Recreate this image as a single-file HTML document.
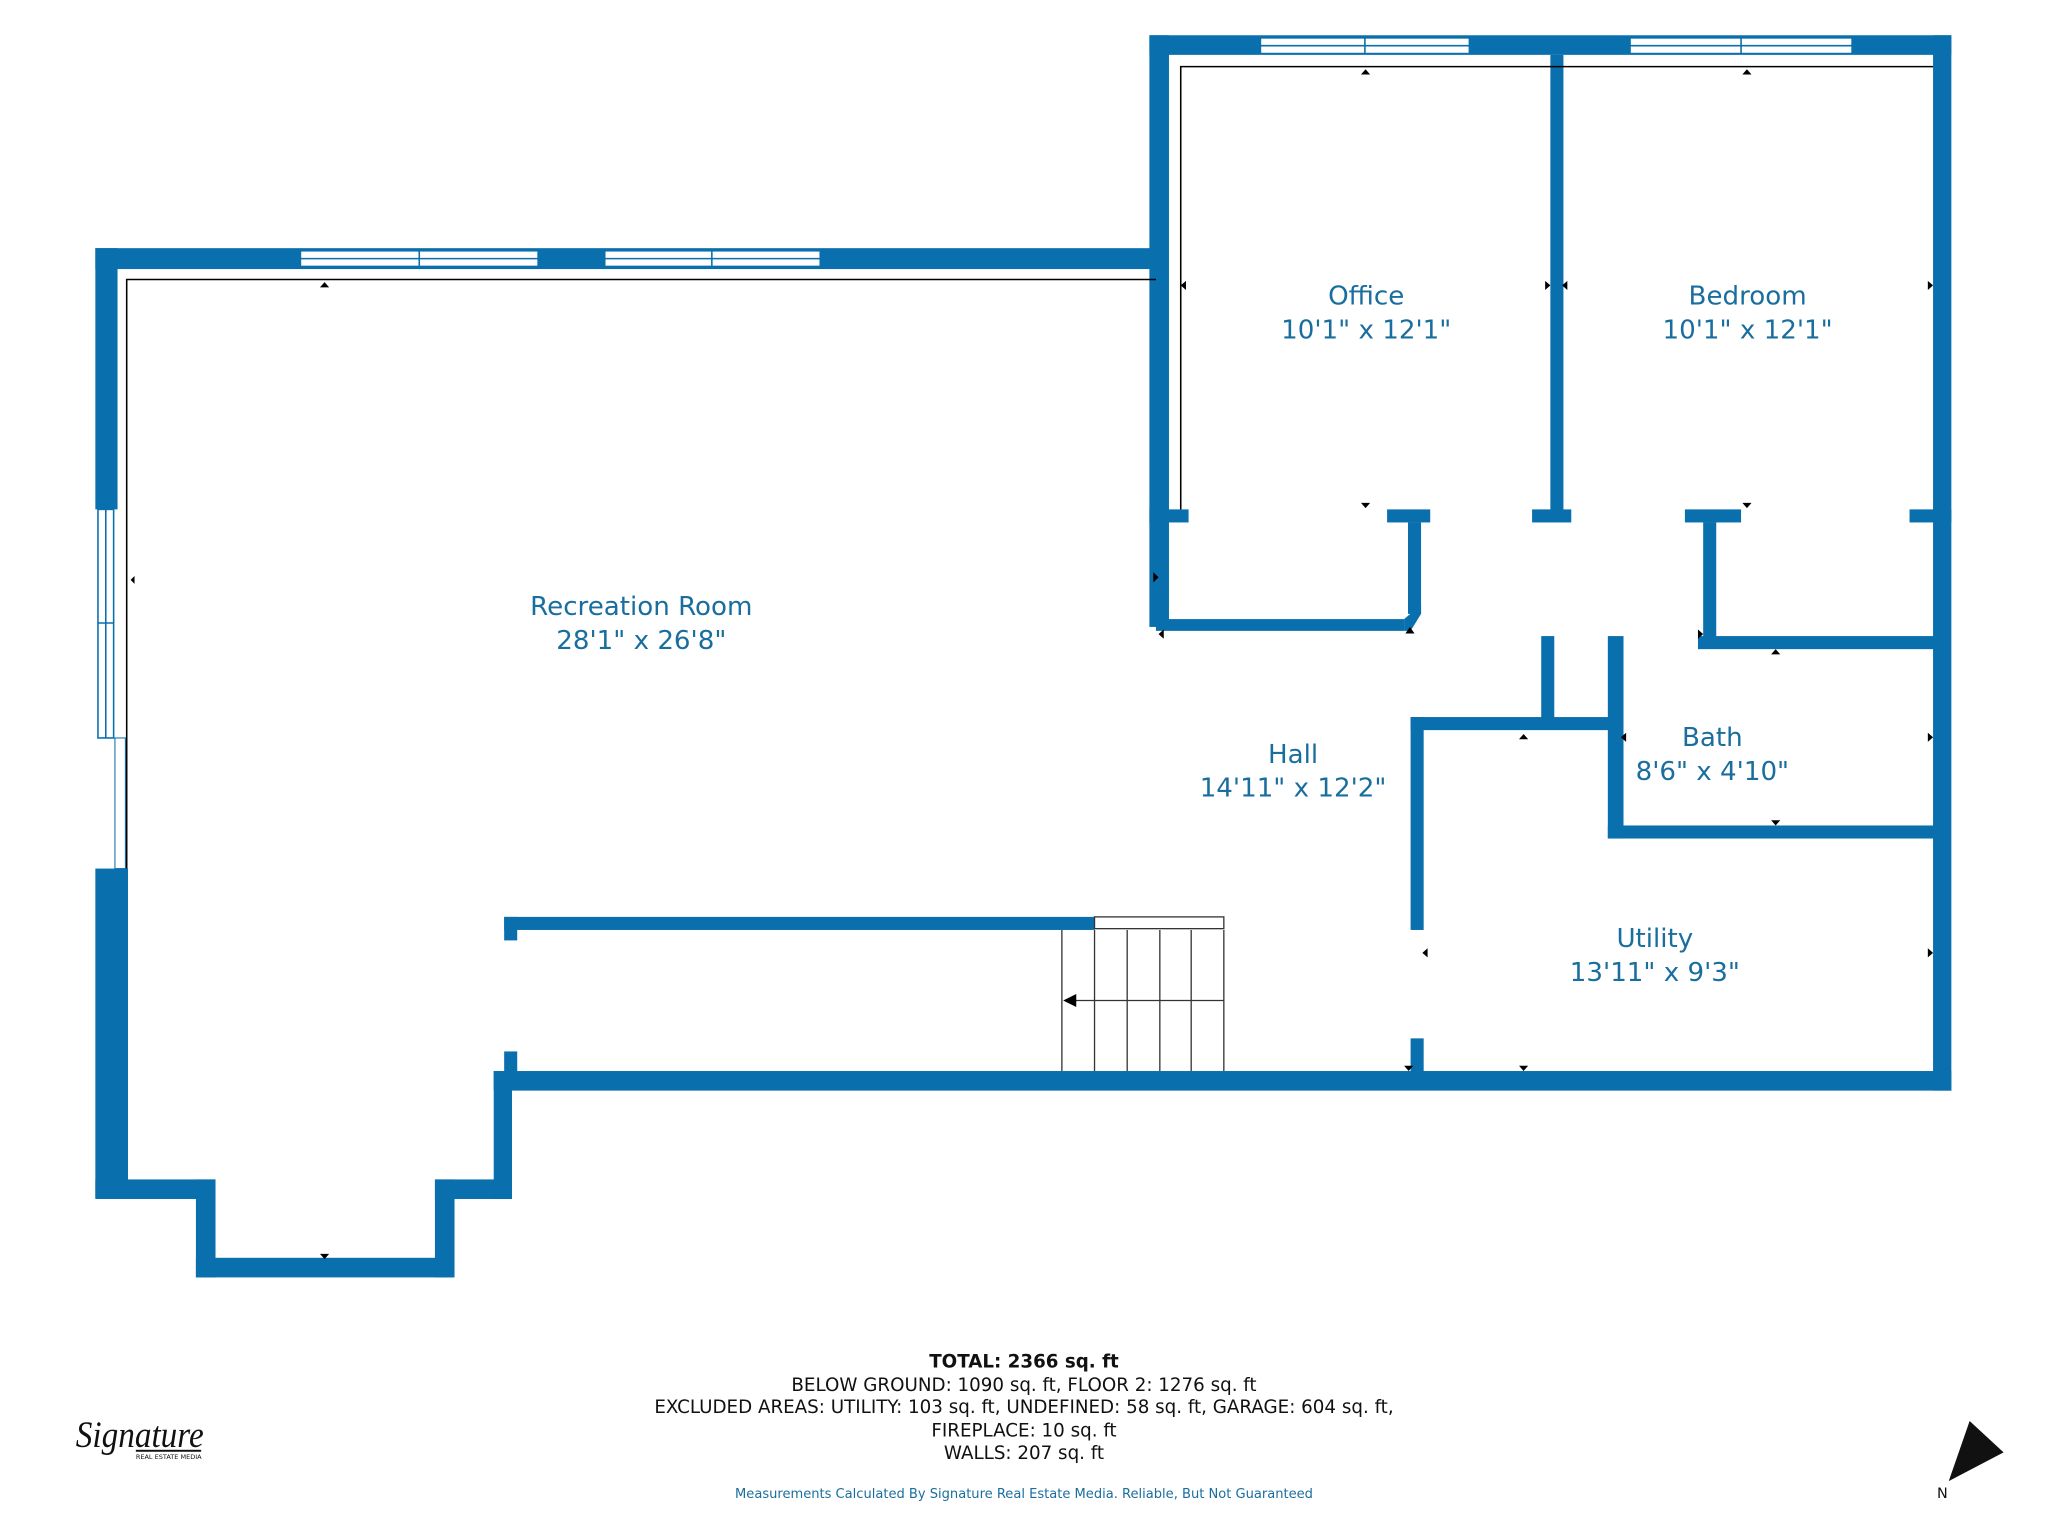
<!DOCTYPE html>
<html><head><meta charset="utf-8"><style>
html,body{margin:0;padding:0;background:#fff;}
svg{display:block;}
</style></head><body>
<svg width="2048" height="1536" viewBox="0 0 1568 1176" xmlns="http://www.w3.org/2000/svg" font-family="DejaVu Sans, Liberation Sans, sans-serif">
<rect width="1568" height="1176" fill="#fff"/>
<g fill="#0a6fad">
<rect x="73" y="190" width="817" height="16"/>
<rect x="73" y="190" width="17" height="200"/>
<rect x="73" y="665" width="25" height="252"/>
<rect x="73" y="903" width="92" height="15"/>
<rect x="150" y="903" width="15" height="75"/>
<rect x="150" y="963" width="197" height="15"/>
<rect x="333" y="903" width="15" height="75"/>
<rect x="333" y="903" width="59" height="15"/>
<rect x="378" y="820" width="14" height="98"/>
<rect x="378" y="820" width="1116" height="15"/>
<rect x="880" y="27" width="614" height="15"/>
<rect x="1480" y="27" width="14" height="808"/>
<rect x="880" y="27" width="15" height="453"/>
<rect x="1187" y="42" width="10" height="356"/>
<rect x="880" y="390" width="30" height="10"/>
<rect x="1062" y="390" width="33" height="10"/>
<rect x="1173" y="390" width="30" height="10"/>
<rect x="1290" y="390" width="43" height="10"/>
<rect x="1462" y="390" width="32" height="10"/>
<rect x="885" y="474" width="190" height="9"/>
<rect x="1078" y="400" width="10" height="70"/>
<polygon points="1075,474 1088,463 1088,470 1080,483 1075,483"/>
<rect x="1304" y="400" width="10" height="92"/>
<rect x="1300" y="487" width="185" height="10"/>
<rect x="1231" y="487" width="12" height="155"/>
<rect x="1231" y="632" width="254" height="10"/>
<rect x="1180" y="487" width="10" height="68"/>
<rect x="1080" y="549" width="155" height="10"/>
<rect x="1080" y="549" width="10" height="163"/>
<rect x="1080" y="795" width="10" height="30"/>
<rect x="386" y="702" width="452" height="10"/>
<rect x="386" y="702" width="10" height="18"/>
<rect x="386" y="805" width="10" height="20"/>
</g>
<g fill="#fff" stroke="#0a6fad" stroke-width="1.2">
<rect x="230" y="192" width="182" height="12"/><line x1="230" y1="198" x2="412" y2="198"/><line x1="321" y1="192" x2="321" y2="204"/>
<rect x="463" y="192" width="165" height="12"/><line x1="463" y1="198" x2="628" y2="198"/><line x1="545" y1="192" x2="545" y2="204"/>
<rect x="965" y="29" width="160" height="12"/><line x1="965" y1="35" x2="1125" y2="35"/><line x1="1045" y1="29" x2="1045" y2="41"/>
<rect x="1248" y="29" width="170" height="12"/><line x1="1248" y1="35" x2="1418" y2="35"/><line x1="1333" y1="29" x2="1333" y2="41"/>
<rect x="75" y="390" width="12" height="175"/><line x1="81" y1="390" x2="81" y2="565"/><line x1="75" y1="477" x2="87" y2="477"/>
<rect x="88" y="565" width="8" height="100" stroke-width="0.8"/>
</g>
<g stroke="#000" stroke-width="1.2" fill="none">
<polyline points="885,214 97,214 97,665"/>
<polyline points="1480,51 904,51 904,390"/>
</g>
<g stroke="#333" stroke-width="1" fill="none">
<rect x="838" y="702" width="99" height="9" fill="#fff"/>
<line x1="813" y1="712" x2="813" y2="820"/><line x1="838" y1="712" x2="838" y2="820"/>
<line x1="863" y1="712" x2="863" y2="820"/><line x1="888" y1="712" x2="888" y2="820"/>
<line x1="912" y1="712" x2="912" y2="820"/><line x1="937" y1="712" x2="937" y2="820"/>
<line x1="937" y1="766" x2="822" y2="766"/>
</g>
<polygon points="814,766 824,761 824,771" fill="#000"/>
<!-- small dimension markers -->
<g fill="#000">
<polygon points="245,220 252,220 248.5,216"/>
<polygon points="100,441 100,447 97,444" transform="translate(3,0)"/>
<polygon points="883,438 883,446 887,442"/>
<polygon points="245,960 252,960 248.5,964"/>
<polygon points="1042,57 1049,57 1045.5,53"/>
<polygon points="1042,385 1049,385 1045.5,389"/>
<polygon points="908,215 908,222 904,218.5"/>
<polygon points="1183,215 1183,222 1187,218.5"/>
<polygon points="1334,57 1341,57 1337.5,53"/>
<polygon points="1334,385 1341,385 1337.5,389"/>
<polygon points="1200,215 1200,222 1196,218.5"/>
<polygon points="1476,215 1476,222 1480,218.5"/>
<polygon points="887,482 887,489 891,485.5" transform="rotate(180 889 485.5)"/>
<polygon points="1076,485 1083,485 1079.5,480"/>
<polygon points="1163,566 1170,566 1166.5,562"/>
<polygon points="1245,561 1245,568 1241,564.5"/>
<polygon points="1476,561 1476,568 1480,564.5"/>
<polygon points="1356,501 1363,501 1359.5,497"/>
<polygon points="1356,628 1363,628 1359.5,632"/>
<polygon points="1093,726 1093,733 1089,729.5"/>
<polygon points="1476,726 1476,733 1480,729.5"/>
<polygon points="1163,816 1170,816 1166.5,820"/>
<polygon points="1075,816 1082,816 1078.5,820"/>
<polygon points="1300,482 1300,489 1304,485.5"/>
</g>
<g fill="#1a6e9e" font-size="20" text-anchor="middle">
<text x="1046" y="233">Office</text><text x="1046" y="259">10'1" x 12'1"</text>
<text x="1338" y="233">Bedroom</text><text x="1338" y="259">10'1" x 12'1"</text>
<text x="491" y="471">Recreation Room</text><text x="491" y="497">28'1" x 26'8"</text>
<text x="990" y="584">Hall</text><text x="990" y="610">14'11" x 12'2"</text>
<text x="1311" y="571">Bath</text><text x="1311" y="597">8'6" x 4'10"</text>
<text x="1267" y="725">Utility</text><text x="1267" y="751">13'11" x 9'3"</text>
</g>
<g text-anchor="middle" fill="#111" font-size="14">
<text x="784" y="1047" font-weight="bold">TOTAL: 2366 sq. ft</text>
<text x="784" y="1065">BELOW GROUND: 1090 sq. ft, FLOOR 2: 1276 sq. ft</text>
<text x="784" y="1082">EXCLUDED AREAS: UTILITY: 103 sq. ft, UNDEFINED: 58 sq. ft, GARAGE: 604 sq. ft,</text>
<text x="784" y="1100">FIREPLACE: 10 sq. ft</text>
<text x="784" y="1117">WALLS: 207 sq. ft</text>
<text x="784" y="1147" font-size="10" fill="#1a6e9e">Measurements Calculated By Signature Real Estate Media. Reliable, But Not Guaranteed</text>
</g>
<text x="58" y="1108" font-family="Liberation Serif, serif" font-style="italic" font-size="28" fill="#111" textLength="98" lengthAdjust="spacingAndGlyphs">Signature</text>
<rect x="104" y="1110" width="50" height="1.5" fill="#111"/>
<text x="104" y="1117" font-size="5" fill="#111">REAL ESTATE MEDIA</text>
<polygon points="1508,1088 1534,1112 1492,1134" fill="#111"/>
<text x="1483" y="1147" font-size="11" fill="#111">N</text>
</svg>
</body></html>
